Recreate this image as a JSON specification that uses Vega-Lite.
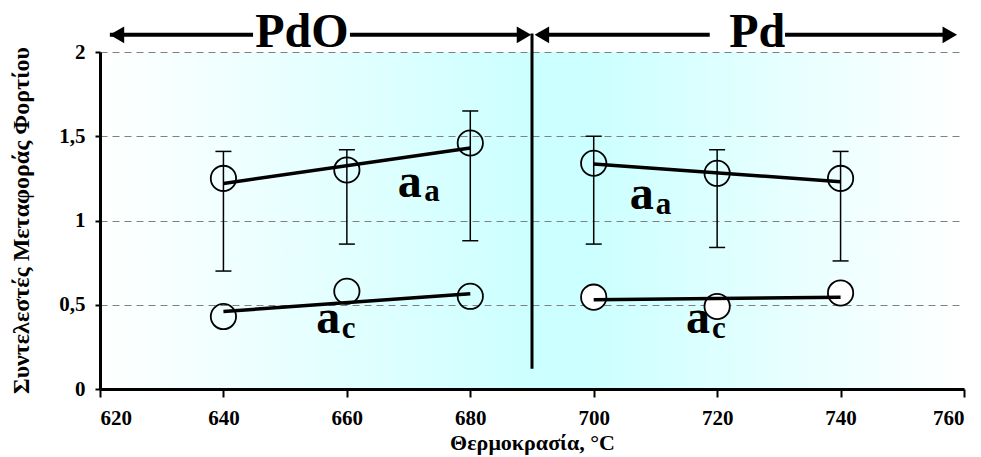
{
  "$schema": "https://vega.github.io/schema/vega-lite/v6.json",
  "width": 864,
  "height": 337,
  "autosize": {"type": "none"},
  "padding": {"left": 100, "top": 52, "right": 17, "bottom": 68},
  "background": "#ffffff",
  "view": {
    "stroke": null,
    "fill": {
      "gradient": "linear",
      "x1": 0, "y1": 0, "x2": 1, "y2": 0,
      "stops": [
        {"offset": 0, "color": "#ffffff"},
        {"offset": 0.5, "color": "#ccffff"},
        {"offset": 0.57, "color": "#ccffff"},
        {"offset": 1, "color": "#ffffff"}
      ]
    }
  },
  "datasets": {
    "pts": [
      {"t": 640, "series": "aa", "v": 1.25, "lo": 0.70, "hi": 1.41},
      {"t": 660, "series": "aa", "v": 1.30, "lo": 0.86, "hi": 1.42},
      {"t": 680, "series": "aa", "v": 1.46, "lo": 0.88, "hi": 1.65},
      {"t": 700, "series": "aa", "v": 1.34, "lo": 0.86, "hi": 1.50},
      {"t": 720, "series": "aa", "v": 1.28, "lo": 0.84, "hi": 1.42},
      {"t": 740, "series": "aa", "v": 1.25, "lo": 0.76, "hi": 1.41},
      {"t": 640, "series": "ac", "v": 0.43},
      {"t": 660, "series": "ac", "v": 0.58},
      {"t": 680, "series": "ac", "v": 0.55},
      {"t": 700, "series": "ac", "v": 0.545},
      {"t": 720, "series": "ac", "v": 0.49},
      {"t": 740, "series": "ac", "v": 0.57}
    ],
    "fits": [
      {"grp": "aa-PdO", "t": 640, "v": 1.22},
      {"grp": "aa-PdO", "t": 680, "v": 1.43},
      {"grp": "ac-PdO", "t": 640, "v": 0.46},
      {"grp": "ac-PdO", "t": 680, "v": 0.565},
      {"grp": "aa-Pd", "t": 700, "v": 1.335},
      {"grp": "aa-Pd", "t": 740, "v": 1.23},
      {"grp": "ac-Pd", "t": 700, "v": 0.53},
      {"grp": "ac-Pd", "t": 740, "v": 0.545}
    ],
    "labels": [
      {"kind": "main", "t": 670.2, "v": 1.139, "txt": "a"},
      {"kind": "sub", "t": 673.8, "v": 1.118, "txt": "a"},
      {"kind": "main", "t": 657.0, "v": 0.33, "txt": "a"},
      {"kind": "sub", "t": 660.3, "v": 0.30, "txt": "c"},
      {"kind": "main", "t": 707.8, "v": 1.07, "txt": "a"},
      {"kind": "sub", "t": 711.3, "v": 1.04, "txt": "a"},
      {"kind": "main", "t": 716.9, "v": 0.33, "txt": "a"},
      {"kind": "sub", "t": 720.3, "v": 0.30, "txt": "c"}
    ],
    "phases": [
      {"name": "PdO", "t": 652.7, "v": 2.03},
      {"name": "Pd", "t": 726.5, "v": 2.03}
    ],
    "arrows": [
      {"a": 621.6, "b": 644.8, "v": 2.102},
      {"a": 660.5, "b": 689.0, "v": 2.102},
      {"a": 691.0, "b": 718.8, "v": 2.102},
      {"a": 731.0, "b": 758.0, "v": 2.102}
    ],
    "heads": [
      {"t": 622.75, "v": 2.102, "dir": "left"},
      {"t": 688.7, "v": 2.102, "dir": "right"},
      {"t": 691.6, "v": 2.102, "dir": "left"},
      {"t": 757.7, "v": 2.102, "dir": "right"}
    ],
    "divider": [
      {"t": 690, "top": 2.11, "bottom": 0.12}
    ]
  },
  "encoding": {
    "x": {
      "type": "quantitative",
      "scale": {"domain": [620, 760], "nice": false, "zero": false},
      "axis": {
        "title": "Θερμοκρασία, °C",
        "values": [620, 640, 660, 680, 700, 720, 740, 760],
        "grid": false,
        "domainColor": "#000000",
        "domainWidth": 3,
        "tickColor": "#000000",
        "tickWidth": 2,
        "tickSize": 8,
        "labelPadding": 10,
        "titleFontSize": 22,
        "titleY": 60,
        "titleBaseline": "alphabetic"
      }
    },
    "y": {
      "type": "quantitative",
      "scale": {"domain": [0, 2], "nice": false},
      "axis": {
        "title": "Συντελεστές Μεταφοράς Φορτίου",
        "values": [0, 0.5, 1, 1.5, 2],
        "format": "~g",
        "labelExpr": "replace(datum.label, '.', ',')",
        "grid": true,
        "gridColor": "#808080",
        "gridDash": [7, 5],
        "gridWidth": 1,
        "domainColor": "#000000",
        "domainWidth": 3,
        "tickColor": "#000000",
        "tickWidth": 2,
        "tickSize": 5,
        "labelPadding": 10,
        "titleFontSize": 24,
        "titleX": -79,
        "titleY": 168,
        "titleBaseline": "middle"
      }
    }
  },
  "layer": [
    {
      "data": {"name": "labels"},
      "transform": [{"filter": "datum.kind === 'main'"}],
      "mark": {"type": "text", "font": "Liberation Serif", "fontWeight": "bold", "fontSize": 48, "align": "center", "baseline": "alphabetic", "color": "#000000"},
      "encoding": {"x": {"field": "t"}, "y": {"field": "v"}, "text": {"field": "txt"}}
    },
    {
      "data": {"name": "labels"},
      "transform": [{"filter": "datum.kind === 'sub'"}],
      "mark": {"type": "text", "font": "Liberation Serif", "fontWeight": "bold", "fontSize": 31, "align": "center", "baseline": "alphabetic", "color": "#000000"},
      "encoding": {"x": {"field": "t"}, "y": {"field": "v"}, "text": {"field": "txt"}}
    },
    {
      "data": {"name": "pts"},
      "transform": [{"filter": "!(datum.series === 'ac' && datum.t > 690)"}],
      "mark": {"type": "point", "shape": "circle", "size": 640, "filled": false, "stroke": "#000000", "strokeWidth": 1.8, "opacity": 1},
      "encoding": {"x": {"field": "t"}, "y": {"field": "v"}}
    },
    {
      "data": {"name": "pts"},
      "transform": [{"filter": "datum.series === 'ac' && datum.t > 690"}],
      "mark": {"type": "point", "shape": "circle", "size": 640, "filled": true, "fill": "#ffffff", "stroke": "#000000", "strokeWidth": 1.8, "opacity": 1, "fillOpacity": 1},
      "encoding": {"x": {"field": "t"}, "y": {"field": "v"}}
    },
    {
      "data": {"name": "fits"},
      "mark": {"type": "line", "color": "#000000", "strokeWidth": 3.5},
      "encoding": {"x": {"field": "t"}, "y": {"field": "v"}, "detail": {"field": "grp"}}
    },
    {
      "data": {"name": "pts"},
      "transform": [{"filter": "datum.series === 'aa'"}],
      "mark": {"type": "rule", "color": "#000000", "strokeWidth": 1.5},
      "encoding": {"x": {"field": "t"}, "y": {"field": "lo"}, "y2": {"field": "hi"}}
    },
    {
      "data": {"name": "pts"},
      "transform": [{"filter": "datum.series === 'aa'"}, {"fold": ["lo", "hi"], "as": ["end", "val"]}],
      "mark": {"type": "tick", "orient": "horizontal", "color": "#000000", "size": 16, "thickness": 1.5, "opacity": 1},
      "encoding": {"x": {"field": "t"}, "y": {"field": "val"}}
    },
    {
      "data": {"name": "divider"},
      "mark": {"type": "rule", "color": "#000000", "strokeWidth": 3},
      "encoding": {"x": {"field": "t"}, "y": {"field": "top"}, "y2": {"field": "bottom"}}
    },
    {
      "data": {"name": "arrows"},
      "mark": {"type": "rule", "color": "#000000", "strokeWidth": 4},
      "encoding": {"x": {"field": "a"}, "x2": {"field": "b"}, "y": {"field": "v"}}
    },
    {
      "data": {"name": "heads"},
      "mark": {"type": "point", "filled": true, "color": "#000000", "size": 280, "opacity": 1},
      "encoding": {
        "x": {"field": "t"},
        "y": {"field": "v"},
        "shape": {"field": "dir", "type": "nominal", "scale": {"domain": ["left", "right"], "range": ["triangle-left", "triangle-right"]}, "legend": null}
      }
    },
    {
      "data": {"name": "phases"},
      "mark": {"type": "text", "font": "Liberation Serif", "fontWeight": "bold", "fontSize": 48, "align": "center", "baseline": "alphabetic", "color": "#000000"},
      "encoding": {"x": {"field": "t"}, "y": {"field": "v"}, "text": {"field": "name"}}
    }
  ],
  "config": {
    "axis": {
      "labelFont": "Liberation Serif",
      "labelFontWeight": "bold",
      "labelFontSize": 21,
      "labelColor": "#000000",
      "titleFont": "Liberation Serif",
      "titleFontWeight": "bold",
      "titleColor": "#000000"
    }
  }
}
